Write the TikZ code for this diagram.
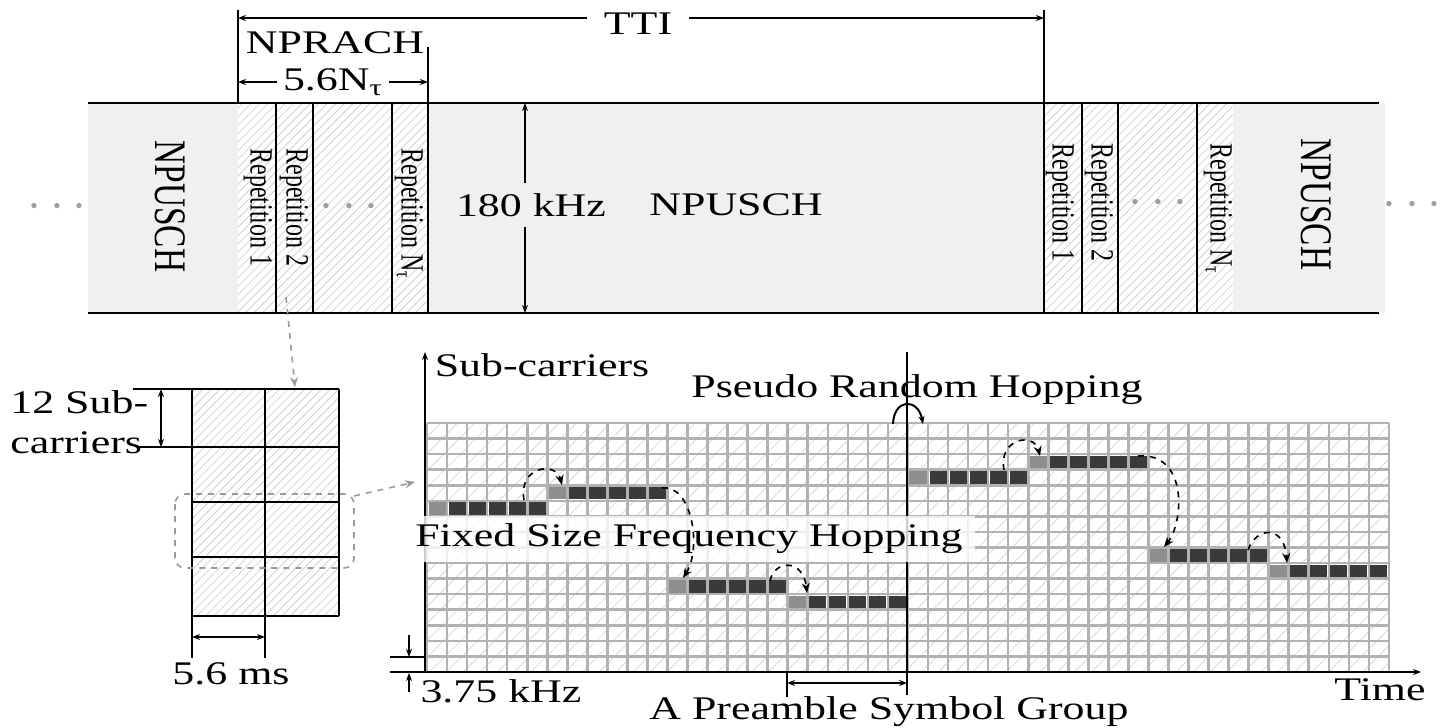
\documentclass[tikz,border=0pt]{standalone}
\usepackage{fontspec}
\usepackage{graphicx}
\setmainfont{Liberation Serif}[FakeStretch=1.33]
\newfontfamily\rotfont{Liberation Serif}
\usetikzlibrary{arrows.meta,patterns.meta}

\definecolor{bandgray}{HTML}{F0F0F0}
\definecolor{gridgray}{HTML}{B2B2B2}
\definecolor{hopdark}{HTML}{3A3A3A}
\definecolor{hoplight}{HTML}{8E8E8E}
\definecolor{linkgray}{HTML}{9A9A9A}

\tikzset{
  lbl/.style={font=\fontsize{16.5}{20}\selectfont, inner sep=1pt},
  vlbl/.style={rotate=-90, anchor=west, inner sep=0pt},
  dots/.style={text=gray!75, font=\fontsize{30}{30}\selectfont, inner sep=0pt},
  hatch/.style={pattern={Lines[angle=45,distance=3pt,line width=0.4pt]}, pattern color=gray!35},
  cellhatch/.style={pattern={Lines[angle=45,distance=6pt,line width=0.4pt]}, pattern color=gray!30},
  bandline/.style={line width=1pt},
  dimline/.style={line width=0.8pt},
  gridline/.style={draw=gridgray, line width=1.3pt},
  hoplink/.style={dashed, line width=0.8pt, -{Stealth[length=5pt,width=4pt]}},
  zoomlink/.style={linkgray, dashed, line width=0.8pt, -{Stealth[length=5pt,width=4pt]}},
}
% rotated text, stretched across the line of reading
\newcommand{\vtext}[2]{\scalebox{1}[1.35]{\rotfont\fontsize{#1}{#1}\selectfont #2}}

\begin{document}
\begin{tikzpicture}[x=0.5pt, y=-0.5pt, >={Stealth[length=4pt,width=3pt]}]
    \useasboundingbox (0,0) rectangle (1441,728);
    \def\gx{427}
    \def\gy{423}
    \def\cw{20.04}
    \def\ch{15.5625}

    % Uplink band
    \fill[bandgray] (88,103) rectangle (1385,313);
    \fill[white] (238,103) rectangle (428,313);
    \fill[white] (1044,103) rectangle (1233,313);
    \fill[hatch] (238,103) rectangle (428,313);
    \fill[hatch] (1044,103) rectangle (1233,313);
    \draw[bandline] (88,103) -- (1379,103);
    \draw[bandline] (88,313) -- (1379,313);
    \foreach \xx in {276,313,392,1082,1118,1197}
        \draw[bandline] (\xx,103) -- (\xx,313);
    \draw[bandline] (238,10) -- (238,103);
    \draw[bandline] (428,47) -- (428,313);
    \draw[bandline] (1044,10) -- (1044,313);

    % TTI
    \coordinate (ttiL) at (238,18);
    \coordinate (ttiR) at (1044,18);
    \node[lbl, inner xsep=8pt] (tti) at (638,24) {TTI};
    \draw[dimline,->] (tti.west |- ttiL) -- (ttiL);
    \draw[dimline,->] (tti.east |- ttiR) -- (ttiR);

    % NPRACH length
    \node[lbl] (nprach) at (335,43) {NPRACH};
    \coordinate (rachL) at (238,82);
    \coordinate (rachR) at (428,82);
    \draw[dimline,<->] (rachL) -- (rachR)
        node[midway, lbl, fill=white, inner xsep=3pt] (rachw) {5.6N\textsubscript{τ}};

    % Bandwidth
    \node[lbl, inner ysep=5pt] (bw) at (531,205) {180 kHz};
    \coordinate (bwT) at (525,103);
    \coordinate (bwB) at (525,313);
    \draw[dimline,->] (bw.north -| bwT) -- (bwT);
    \draw[dimline,->] (bw.south -| bwT) -- (bwB);
    \node[lbl] (puschM) at (736,205) {NPUSCH};

    % Columns of the band
    \node[vlbl] (puschL) at (170,140) {\vtext{16.7}{NPUSCH}};
    \node[vlbl] (repL1) at (258,148) {\vtext{12}{Repetition 1}};
    \node[vlbl] (repL2) at (294,148) {\vtext{12}{Repetition 2}};
    \node[vlbl] (repLN) at (409,148) {\vtext{12}{Repetition N\textsubscript{τ}}};
    \node[vlbl] (repR1) at (1060,143) {\vtext{12}{Repetition 1}};
    \node[vlbl] (repR2) at (1099,143) {\vtext{12}{Repetition 2}};
    \node[vlbl] (repRN) at (1218,143) {\vtext{12}{Repetition N\textsubscript{τ}}};
    \node[vlbl] (puschR) at (1316,138) {\vtext{16.7}{NPUSCH}};
    \node[dots] (dotsL) at (57,207) {$\cdots$};
    \node[dots] (dotsA) at (349,207) {$\cdots$};
    \node[dots] (dotsB) at (1158,203) {$\cdots$};
    \node[dots] (dotsR) at (1412,205) {$\cdots$};

    % Resource block of one repetition
    \fill[white] (192,389) rectangle (339,616);
    \fill[hatch] (192,389) rectangle (339,616);
    \node[lbl, align=left, anchor=north west] (subc) at (8,388) {12 Sub-\\carriers};
    \foreach \yy in {389,447,502,557,616}
        \draw[bandline] (192,\yy) -- (339,\yy);
    \foreach \xx in {192,265,339}
        \draw[bandline] (\xx,389) -- (\xx,616);
    \draw[bandline] (133,389) -- (192,389);
    \draw[bandline] (138,447) -- (192,447);
    \draw[dimline,<->] (161,389) -- (161,447);
    \draw[bandline] (192,616) -- (192,658);
    \draw[bandline] (265,616) -- (265,658);
    \draw[dimline,<->] (192,637) -- (265,637);
    \node[lbl] (tms) at (231,674) {5.6 ms};
    \draw[linkgray, dashed, line width=0.8pt, rounded corners=5pt] (175,494) rectangle (354,568);
    \draw[zoomlink] (286,297) -- (295,387);
    \draw[zoomlink] (354,496) -- (415,482);

    % Hopping grid
    \fill[cellhatch] (\gx,\gy) rectangle (1389,672);
    \foreach \k in {0,...,48}
        \draw[gridline] ({\gx+\k*\cw},\gy) -- ({\gx+\k*\cw},672);
    \foreach \r in {0,...,16}
        \draw[gridline] (\gx,{\gy+\r*\ch}) -- (1389,{\gy+\r*\ch});
    \foreach \g/\r in {0/5,1/4,2/10,3/11,4/3,5/2,6/8,7/9} {
        \fill[hoplight] ({\gx+6*\g*\cw+1.5},{\gy+\r*\ch+1.5}) rectangle ++(\cw-3,\ch-3);
        \foreach \c in {1,...,5}
            \fill[hopdark] ({\gx+(6*\g+\c)*\cw+1.5},{\gy+\r*\ch+1.5}) rectangle ++(\cw-3,\ch-3);
    }

    % Axes
    \draw[bandline,->] (425,673) -- (425,352);
    \draw[bandline,->] (390,672) -- (1421,672);
    \draw[dimline] (390,657) -- (425,657);
    \draw[dimline,->] (409,635) -- (409,657);
    \draw[dimline,->] (409,692) -- (409,673);
    \node[lbl] (yax) at (542,365) {Sub-carriers};
    \node[lbl] (xax) at (1380,690) {Time};
    \node[lbl] (sc) at (501,691) {3.75 kHz};

    % Symbol group and random hop
    \draw[line width=1.2pt] (907,352) -- (907,695);
    \draw[dimline] (787,673) -- (787,697);
    \draw[dimline,<->] (787,683) -- (907,683);
    \node[lbl] (grp) at (889,712) {A Preamble Symbol Group};
    \node[lbl] (prh) at (917,390) {Pseudo Random Hopping};
    \draw[line width=1pt,->] (893,424) .. controls (894,398) and (918,398) .. (923,424);
    \node[lbl, fill=white, fill opacity=0.8, text opacity=1, inner xsep=6pt, inner ysep=4pt] (fsh) at (689,539) {Fixed Size Frequency Hopping};

    % Fixed size hops
    \draw[hoplink] (524,500) .. controls (518,466) and (556,461) .. (562,485);
    \draw[hoplink] (662,488) .. controls (692,484) and (702,548) .. (683,578);
    \draw[hoplink] (770,581) .. controls (774,560) and (803,558) .. (807,593);
    \draw[hoplink] (1004,470) .. controls (998,438) and (1034,432) .. (1040,456);
    \draw[hoplink] (1138,456) .. controls (1188,452) and (1184,522) .. (1164,547);
    \draw[hoplink] (1248,550) .. controls (1256,527) and (1284,524) .. (1287,563);
\end{tikzpicture}
\end{document}
